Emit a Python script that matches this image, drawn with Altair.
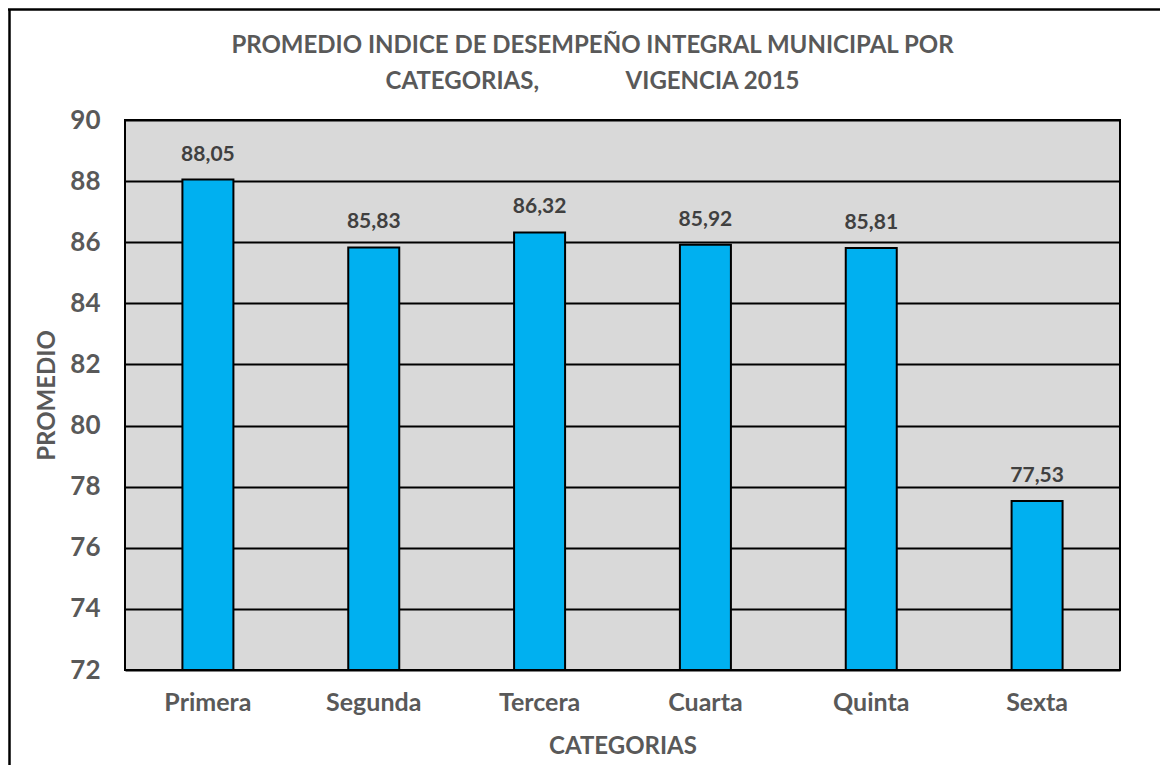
import altair as alt
import pandas as pd

categorias = ["Primera", "Segunda", "Tercera", "Cuarta", "Quinta", "Sexta"]
promedios = [88.05, 85.83, 86.32, 85.92, 85.81, 77.53]
y_ticks = [72, 74, 76, 78, 80, 82, 84, 86, 88, 90]

df = pd.DataFrame({
    "categoria": categorias,
    "promedio": promedios,
    "etiqueta": [f"{v:.2f}".replace(".", ",") for v in promedios],
})

FONT = "Lato"
GRAY = "#595959"
NB = "\u00a0"

base = alt.Chart(df)

x_enc = alt.X("categoria:N", sort=categorias,
              axis=alt.Axis(title="CATEGORIAS", labelAngle=0, ticks=False, domain=False,
                            labelFont=FONT, labelFontSize=25, labelFontWeight="bold",
                            labelColor=GRAY, labelPadding=20,
                            titleFont=FONT, titleFontSize=24, titleFontWeight="bold",
                            titleColor=GRAY, titlePadding=19),
              scale=alt.Scale(paddingInner=0, paddingOuter=0))
y_enc = alt.Y("promedio:Q", scale=alt.Scale(domain=[72, 90], nice=False, zero=False),
              axis=alt.Axis(title="PROMEDIO", values=y_ticks, ticks=False, domain=False,
                            grid=True, gridColor="black", gridWidth=2, gridOpacity=1,
                            labelFont=FONT, labelFontSize=26, labelFontWeight="bold",
                            labelColor=GRAY, labelPadding=25,
                            titleFont=FONT, titleFontSize=24, titleFontWeight="bold",
                            titleColor=GRAY, titlePadding=10))

bars = base.mark_bar(size=51, color="#00b0f0", stroke="black", strokeWidth=2).encode(
    x=x_enc, y=y_enc, y2=alt.datum(72))

labels = base.mark_text(baseline="bottom", dy=-15, font=FONT, fontSize=21,
                        fontWeight="bold", color="#404040").encode(
    x=alt.X("categoria:N", sort=categorias),
    y="promedio:Q",
    text="etiqueta:N")

border_left = alt.Chart(pd.DataFrame({"k": [0]})).mark_rule(
    color="black", strokeWidth=2.5, clip=False).encode(
    x=alt.value(-115.5), y=alt.value(-111), y2=alt.value(660))
border_top = alt.Chart(pd.DataFrame({"k": [0]})).mark_rule(
    color="black", strokeWidth=2.5, clip=False).encode(
    x=alt.value(-117), x2=alt.value(1040), y=alt.value(-110.5))

chart = alt.layer(bars, labels, border_left, border_top).properties(
    width=995, height=550,
    autosize=alt.AutoSizeParams(type="none"),
    padding={"left": 117, "top": 112, "right": 40, "bottom": 95},
    background="white",
    title=alt.TitleParams(
        text=["PROMEDIO INDICE DE DESEMPEÑO INTEGRAL MUNICIPAL POR",
              "CATEGORIAS," + NB * 15 + "VIGENCIA 2015"],
        font=FONT, fontSize=24, fontWeight="bold", color=GRAY,
        anchor="middle", dx=-30, offset=-86, lineHeight=36),
).configure_view(fill="#d9d9d9", stroke="black", strokeWidth=2)

chart.save("out.html", embed_options={"renderer": "svg", "actions": False})
